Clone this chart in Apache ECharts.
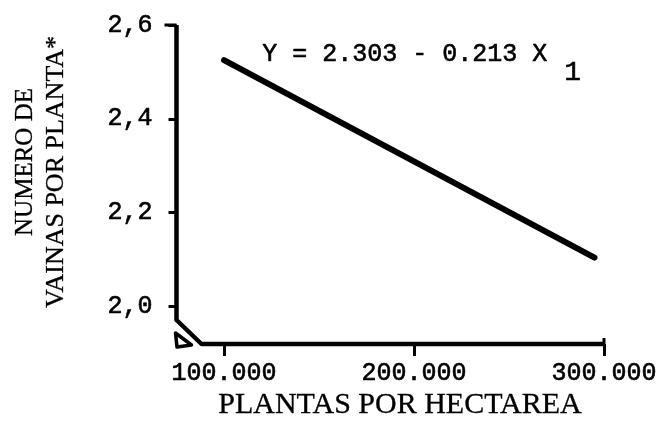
<!DOCTYPE html>
<html>
<head>
<meta charset="utf-8">
<script src="https://cdn.jsdelivr.net/npm/echarts@6/dist/echarts.min.js"></script>
<style>
html,body{margin:0;padding:0;background:#fff;}
#c{width:665px;height:422px;}
</style>
</head>
<body>
<div id="c"></div>
<script>
// Data
var xTicks = [100000, 200000, 300000];
var yTicks = [2.0, 2.2, 2.4, 2.6];
var regressionLine = [[100000, 2.525], [295000, 2.104]];
var equationText = 'Y = 2.303 - 0.213 X';
var equationSub = '1';
var xTitle = 'PLANTAS POR HECTAREA';
var yTitle1 = 'NUMERO DE';
var yTitle2 = 'VAINAS POR PLANTA*';

var chart = echarts.init(document.getElementById('c'));
var monoFont = '"Liberation Mono", "DejaVu Sans Mono", monospace';
var serifFont = '"Liberation Serif", "DejaVu Serif", serif';

function fmtX(v){ return String(v/1000) + '.000'; }
function fmtY(v){ return v.toFixed(1).replace('.', ','); }

chart.setOption({
  backgroundColor: '#fff',
  animation: false,
  grid: {left: 176.5, top: 25, right: 61, bottom: 78, containLabel: false},
  xAxis: {
    type: 'value', min: 75000, max: 300000,
    axisLine: {show: false},
    splitLine: {show: false},
    axisTick: {show: true, customValues: xTicks, length: 12, lineStyle: {color: '#000', width: 3}},
    axisLabel: {customValues: xTicks, formatter: fmtX, margin: 17, color: '#000', fontFamily: monoFont, fontSize: 25,
      textBorderColor: '#000', textBorderWidth: 0.6}
  },
  yAxis: {
    type: 'value', min: 1.92, max: 2.6,
    axisLine: {show: false},
    splitLine: {show: false},
    axisTick: {show: true, customValues: yTicks, length: 8, lineStyle: {color: '#000', width: 3}},
    axisLabel: {customValues: yTicks, formatter: fmtY, margin: 24, color: '#000', fontFamily: monoFont, fontSize: 25,
      textBorderColor: '#000', textBorderWidth: 0.6}
  },
  series: [{
    type: 'line',
    data: regressionLine,
    symbol: 'none',
    lineStyle: {color: '#000', width: 6, cap: 'round'}
  }]
});

// Axis lines with a break at the lower-left corner
var pTop = chart.convertToPixel({gridIndex: 0}, [75000, 2.6]);
var pBot = chart.convertToPixel({gridIndex: 0}, [75000, 1.92]);
var pRight = chart.convertToPixel({gridIndex: 0}, [300000, 1.92]);
var breakH = 24, breakW = 25;
var thick = {fill: '#000', stroke: '#000', lineWidth: 0.6};

chart.setOption({
  graphic: [
    {type: 'polyline', shape: {points: [
      [pTop[0], pTop[1]], [pBot[0], pBot[1] - breakH], [pBot[0] + breakW, pBot[1]], [pRight[0], pRight[1]]
    ]}, style: {stroke: '#000', lineWidth: 4.5, fill: null, lineJoin: 'round'}},
    {type: 'line', shape: {x1: pTop[0] - 12, y1: pTop[1], x2: pTop[0], y2: pTop[1]}, style: {stroke: '#000', lineWidth: 3}},
    {type: 'line', shape: {x1: pRight[0], y1: pRight[1] - 6, x2: pRight[0], y2: pRight[1]}, style: {stroke: '#000', lineWidth: 3}},
    {type: 'polygon', shape: {points: [
      [pBot[0] - 1, pBot[1] - 11], [pBot[0] + 0.5, pBot[1] + 3], [pBot[0] + 15, pBot[1] + 1]
    ]}, style: {stroke: '#000', lineWidth: 3.5, fill: '#fff', lineJoin: 'round'}},
    {type: 'text', left: 262, top: 42, style: Object.assign({text: equationText, font: '25px ' + monoFont}, thick)},
    {type: 'text', left: 564, top: 58, style: Object.assign({text: equationSub, font: '28px ' + monoFont}, thick)},
    {type: 'text', x: 400, y: 405, style: Object.assign({text: xTitle, font: '30px ' + serifFont, align: 'center', verticalAlign: 'middle'}, {fill: '#000', stroke: '#000', lineWidth: 0.3})},
    {type: 'text', x: 25, y: 162, rotation: Math.PI/2, style: Object.assign({text: yTitle1, font: '25px ' + serifFont, align: 'center', verticalAlign: 'middle'}, {fill: '#000', stroke: '#000', lineWidth: 0.3})},
    {type: 'text', x: 56, y: 172, rotation: Math.PI/2, style: Object.assign({text: yTitle2, font: '26px ' + serifFont, align: 'center', verticalAlign: 'middle'}, {fill: '#000', stroke: '#000', lineWidth: 0.3})}
  ]
});
</script>
</body>
</html>
